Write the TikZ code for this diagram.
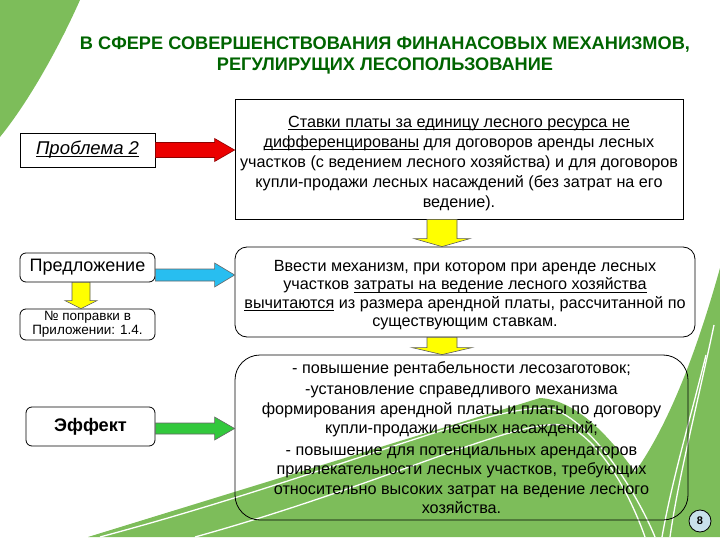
\documentclass[tikz,border=0pt]{standalone}
\usepackage{fontspec}
\setmainfont{Liberation Sans}
\usetikzlibrary{calc}
\definecolor{bggreen}{RGB}{125,189,90}
\definecolor{titlegreen}{RGB}{0,100,0}
\definecolor{arrred}{RGB}{235,0,0}
\definecolor{arrredline}{RGB}{140,0,0}
\definecolor{arrblue}{RGB}{40,190,240}
\definecolor{arrgreen}{RGB}{50,200,60}
\definecolor{arryellow}{RGB}{255,255,0}
\definecolor{pgblue}{RGB}{200,225,235}
% close underline
\newcommand\myul[1]{\setbox0\hbox{#1}\rlap{\rule[-2.3pt]{\wd0}{0.7pt}}\box0\relax}
% horizontal block arrow: style, start, end, body half, head half, head length
\newcommand\harrow[6]{\filldraw[#1] let \p1=(#2), \p2=(#3) in
  (\x1,\y1+#4) -- (\x2-#6,\y1+#4) -- (\x2-#6,\y1+#5) -- (\x2,\y1) --
  (\x2-#6,\y1-#5) -- (\x2-#6,\y1-#4) -- (\x1,\y1-#4) -- cycle;}
% vertical (downward) block arrow
\newcommand\varrow[6]{\filldraw[#1] let \p1=(#2), \p2=(#3) in
  (\x1-#4,\y1) -- (\x1-#4,\y2+#6) -- (\x1-#5,\y2+#6) -- (\x1,\y2) --
  (\x1+#5,\y2+#6) -- (\x1+#4,\y2+#6) -- (\x1+#4,\y1) -- cycle;}
\begin{document}
\begin{tikzpicture}[x=1pt,y=-1pt,
  box/.style={draw=black, line width=0.8pt, fill=white, align=center, inner sep=0pt},
  rbox/.style={box, rounded corners=#1},
  body/.style={font=\fontsize{16.2}{20}\selectfont},
  titlestyle/.style={font=\fontsize{18.2}{21}\selectfont\bfseries, text=titlegreen, align=center},
  yarrow/.style={fill=arryellow, draw=black!65, line width=0.6pt},
  swoosh/.style={draw=white, line width=1.3pt}]
\useasboundingbox (0,0) rectangle (720,540);
% background decoration
\fill[bggreen] (0,0) -- (80,0) .. controls (60,45) and (30,100) .. (0,137) -- cycle;
\fill[bggreen] (88,537) -- (540,398) .. controls (578,400) and (612,440) .. (635,472)
  .. controls (672,420) and (700,340) .. (720,268) -- (720,537) -- cycle;
\draw[swoosh] (100,537) .. controls (350,470) and (520,390) .. (560,412) .. controls (600,432) and (640,500) .. (655,537);
\draw[swoosh] (195,537) .. controls (400,480) and (535,408) .. (572,428) .. controls (606,448) and (632,500) .. (645,537);
\draw[swoosh] (706,355) .. controls (690,420) and (672,480) .. (662,537);
\draw[swoosh] (714,325) .. controls (696,410) and (678,480) .. (670,537);
% title
\node[titlestyle] (title) at (385,55) {В СФЕРЕ СОВЕРШЕНСТВОВАНИЯ ФИНАНАСОВЫХ МЕХАНИЗМОВ,\\РЕГУЛИРУЩИХ ЛЕСОПОЛЬЗОВАНИЕ};
% left column
\node[box, minimum width=135, minimum height=34, font=\fontsize{18.5}{20}\selectfont\itshape] (prob) at (87.5,150) {\myul{Проблема 2}};
\node[rbox=6, minimum width=135, minimum height=29, font=\fontsize{18}{20}\selectfont] (pred) at (87.5,267.5) {Предложение};
\node[rbox=6, minimum width=135, minimum height=31, font=\fontsize{13.5}{14.5}\selectfont] (num) at (87.5,324.5) {№ поправки в\\Приложении: 1.4.};
\node[rbox=6, minimum width=129, minimum height=39, font=\fontsize{18.2}{20}\selectfont\bfseries] (eff) at (90.5,426.5) {Эффект};
% right column
\node[box, body, minimum width=448, minimum height=120] (s1) at (459,159)
 {\rule{0pt}{19.7pt}\myul{Ставки платы за единицу лесного ресурса не}\\
  \myul{дифференцированы} для договоров аренды лесных\\
  участков (с ведением лесного хозяйства) и для договоров\\
  купли-продажи лесных насаждений (без затрат на его\\
  ведение).};
\node[rbox=12, font=\fontsize{16.2}{18.4}\selectfont, minimum width=460, minimum height=90] (s2) at (465,292)
 {\rule{0pt}{17.7pt}Ввести механизм, при котором при аренде лесных\\
  участков \myul{затраты на ведение лесного хозяйства}\\
  \myul{вычитаются} из размера арендной платы, рассчитанной по\\
  существующим ставкам.};
\node[rbox=25, fill=none, font=\fontsize{16.2}{19.5}\selectfont, minimum width=453, minimum height=165] (s3) at (461.5,437.5)
 {- повышение рентабельности лесозаготовок;\\[2pt]
  -установление справедливого механизма\\
  формирования арендной платы и платы по договору\\
  купли-продажи лесных насаждений;\\[2pt]
  - повышение для потенциальных арендаторов\\
  привлекательности лесных участков, требующих\\
  относительно высоких затрат на ведение лесного\\
  хозяйства.};
% page number
\node[circle, draw=black, line width=0.8pt, fill=pgblue, minimum size=22, inner sep=0pt, font=\fontsize{11}{13}\selectfont\bfseries] (pg) at (700,521) {8};
% block arrows
\harrow{fill=arrred, draw=arrredline, line width=0.6pt}{prob.east}{s1.west|-prob.east}{7.5}{11.5}{20}
\harrow{fill=arrblue, draw=black!60, line width=0.6pt}{pred.east|-0,275}{s2.west|-0,275}{6}{12}{20}
\harrow{fill=arrgreen, draw=black!60, line width=0.6pt}{eff.east|-0,428.5}{s3.west|-0,428.5}{5.5}{11.5}{20}
\varrow{yarrow}{s1.south-|442,0}{s2.north-|442,0}{15}{28}{8}
\varrow{yarrow}{s2.south-|442,0}{s3.north-|442,0}{15}{30}{7}
\varrow{yarrow}{pred.south-|81,0}{num.north-|81,0}{9}{16}{8}
\end{tikzpicture}
\end{document}
